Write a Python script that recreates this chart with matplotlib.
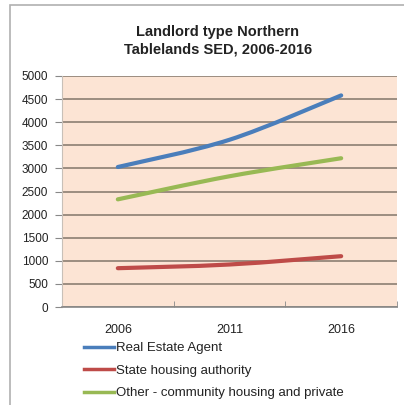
import numpy as np
import matplotlib.pyplot as plt
from matplotlib.path import Path
from matplotlib.patches import PathPatch, Rectangle
from matplotlib.lines import Line2D

plt.rcParams['font.family'] = ['Liberation Sans', 'DejaVu Sans']

years = ["2006", "2011", "2016"]
real_estate = [3030, 3620, 4580]
state_housing = [840, 920, 1100]
other_private = [2330, 2830, 3220]

series = [
    ("Real Estate Agent", real_estate, "#4a7ebb"),
    ("State housing authority", state_housing, "#be4b48"),
    ("Other - community housing and private", other_private, "#98b954"),
]


def smooth_path(xs, ys, tension=1.0 / 6):
    # Catmull-Rom style bezier through the points
    pts = list(zip(xs, ys))
    verts = [pts[0]]
    codes = [Path.MOVETO]
    for i in range(len(pts) - 1):
        p0 = pts[i - 1] if i > 0 else pts[i]
        p1 = pts[i]
        p2 = pts[i + 1]
        p3 = pts[i + 2] if i + 2 < len(pts) else pts[i + 1]
        c1 = (p1[0] + (p2[0] - p0[0]) * tension, p1[1] + (p2[1] - p0[1]) * tension)
        c2 = (p2[0] - (p3[0] - p1[0]) * tension, p2[1] - (p3[1] - p1[1]) * tension)
        verts += [c1, c2, p2]
        codes += [Path.CURVE4] * 3
    return Path(verts, codes)


fig = plt.figure(figsize=(4.04, 4.05), dpi=100)
fig.patch.set_facecolor("white")
fig.patches.append(Rectangle((10 / 404, -0.1), 1.1, 1 - 5 / 405 + 0.1,
                             transform=fig.transFigure, fill=False,
                             edgecolor="#b0b0b0", linewidth=1.2))

ax = fig.add_axes([62 / 404, 1 - 307 / 405, 335 / 404, 231 / 405])
ax.set_facecolor("#fce4d4")

x = np.arange(len(years))
for label, vals, color in series:
    ax.add_patch(PathPatch(smooth_path(x, vals), fill=False, edgecolor=color,
                           linewidth=3, capstyle="round", zorder=3))

ax.set_xlim(-0.5, 2.5)
ax.set_ylim(0, 5000)
ax.set_yticks(np.arange(0, 5001, 500))
ax.set_xticks(x)
ax.set_xticklabels(years)
ax.set_xticks([0.5, 1.5, 2.5], minor=True)
ax.tick_params(axis="x", which="major", length=0, pad=12, labelsize=9, colors="#222222")
ax.tick_params(axis="x", which="minor", length=4, direction="in", color="#888888")
ax.tick_params(axis="y", length=5, color="#888888", labelsize=8.5, labelcolor="#222222", pad=5)
ax.grid(axis="y", color="#8c7f72", linewidth=1.2)
ax.set_axisbelow(True)
for side in ["top", "right"]:
    ax.spines[side].set_visible(False)
ax.spines["left"].set_color("#c8c0b8")
ax.spines["bottom"].set_color("#888888")
ax.spines["bottom"].set_linewidth(1.2)

fig.text(218 / 404, 1 - 41 / 405, "Landlord type Northern\nTablelands SED, 2006-2016",
         ha="center", va="center", fontsize=10.5, fontweight="bold", color="#222222",
         linespacing=1.35)

handles = [Line2D([], [], color=c, linewidth=2.5) for _, _, c in series]
leg = fig.legend(handles, [s[0] for s in series], loc="upper left",
                 bbox_to_anchor=(84 / 404, 1 - 342 / 405), frameon=False,
                 fontsize=9.5, handlelength=2.3, handletextpad=0.1,
                 labelspacing=0.78, borderaxespad=0, borderpad=0)
for t in leg.get_texts():
    t.set_color("#222222")

fig.savefig("out.png", dpi=100)
